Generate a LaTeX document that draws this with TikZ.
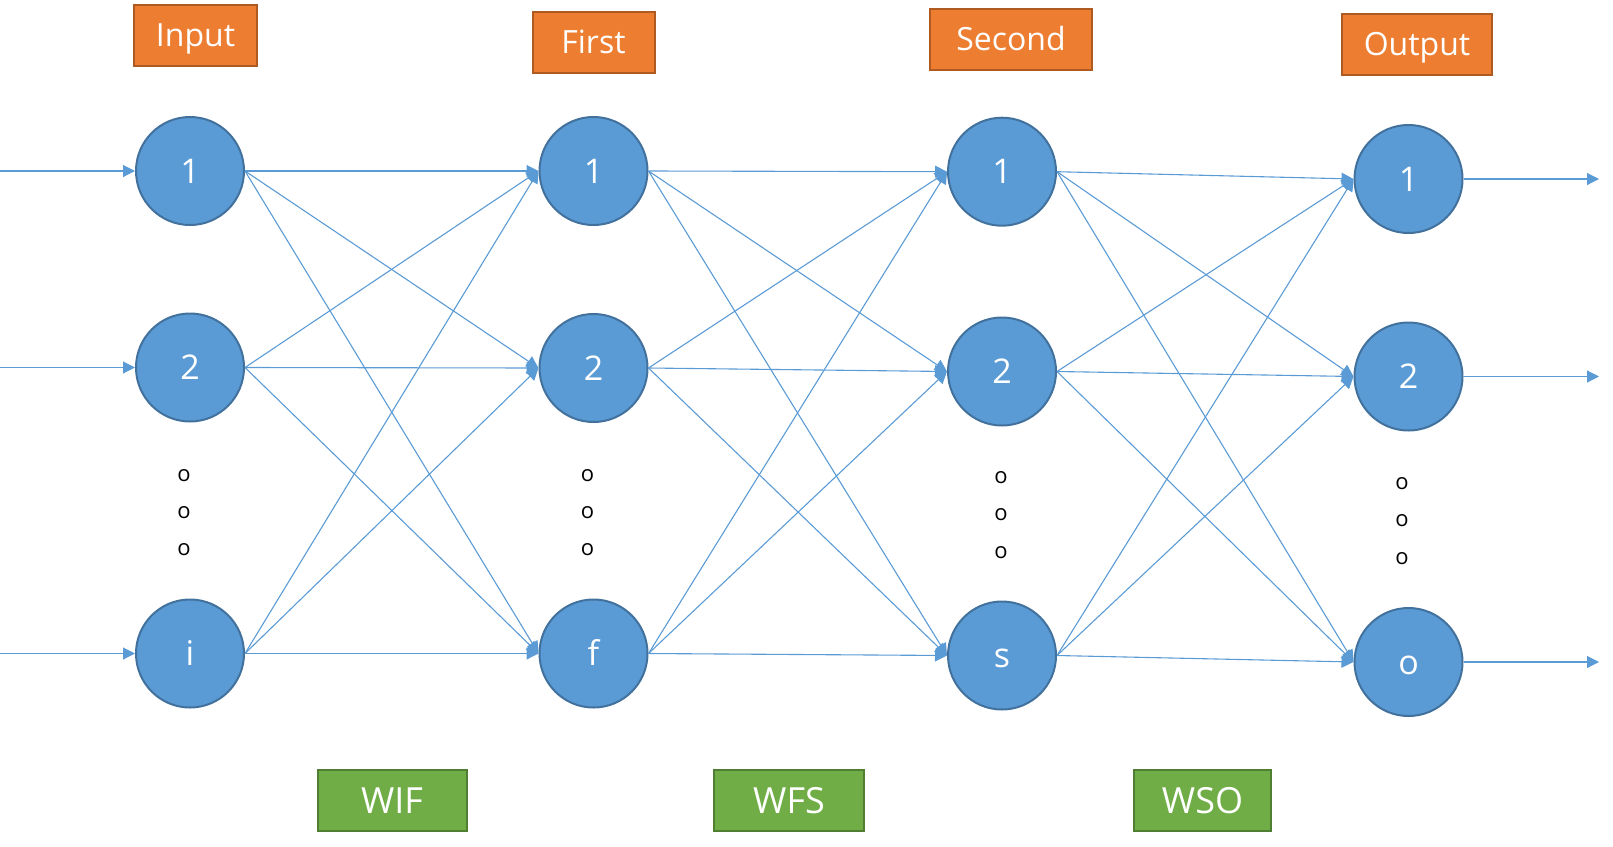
\documentclass[tikz,border=0pt]{standalone}
\usepackage{fontspec}
\setmainfont{Open Sans}
\usepackage{tikz}
\usetikzlibrary{arrows.meta,positioning}
\definecolor{nodeblue}{HTML}{5B9BD5}
\definecolor{nodeedge}{HTML}{41719C}
\definecolor{layerorange}{HTML}{ED7D31}
\definecolor{layeredge}{HTML}{AE5A21}
\definecolor{weightgreen}{HTML}{70AD47}
\definecolor{weightedge}{HTML}{507E32}

\begin{document}
\begin{tikzpicture}[x=1pt,y=1pt,
neuron/.style={circle,fill=nodeblue,draw=nodeedge,line width=2pt,minimum size=108pt,inner sep=0pt,
  text=white,font=\fontsize{34}{34}\selectfont,text height=24.3pt,text depth=0pt},
layer/.style={rectangle,fill=layerorange,draw=layeredge,line width=2pt,minimum height=61pt,inner sep=0pt,
  text=white,font=\fontsize{32}{32}\selectfont,text height=23pt,text depth=0pt},
weight/.style={rectangle,fill=weightgreen,draw=weightedge,line width=2pt,minimum height=61pt,inner sep=0pt,
  text=white,font=\fontsize{36}{36}\selectfont,text height=26pt,text depth=0pt},
dots/.style={inner sep=0pt,font=\fontsize{22}{22}\selectfont},
link/.style={color=nodeblue,line width=1.1pt,-{Triangle[length=12pt,width=12pt]}}]
\useasboundingbox (0,0) rectangle (1613,-846);
% layer titles
\node[layer,minimum width=123pt] (Tin) at (195.5,-35) {Input};
\node[layer,minimum width=122pt] (Tfirst) at (593.5,-42) {First};
\node[layer,minimum width=162pt] (Tsecond) at (1011,-39) {Second};
\node[layer,minimum width=150pt] (Tout) at (1417,-44) {Output};
% weight labels
\node[weight,minimum width=149pt] (WIF) at (392,-800) {WIF};
\node[weight,minimum width=150pt] (WFS) at (789,-800) {WFS};
\node[weight,minimum width=137pt] (WSO) at (1202.5,-800) {WSO};
% neurons
\node[neuron] (I1) at (190,-171) {1};
\node[neuron] (I2) at (190,-367.5) {2};
\node[neuron] (Ii) at (190,-653.5) {i};
\node[neuron] (F1) at (593.5,-171) {1};
\node[neuron] (F2) at (593.5,-368) {2};
\node[neuron] (Ff) at (593.5,-653.5) {f};
\node[neuron] (S1) at (1002,-171.7) {1};
\node[neuron] (S2) at (1002,-371.5) {2};
\node[neuron] (Ss) at (1002,-655.5) {s};
\node[neuron] (O1) at (1408.5,-179) {1};
\node[neuron] (O2) at (1408.5,-376.5) {2};
\node[neuron] (Oo) at (1408.5,-662) {o};
% ellipsis
\node[dots] (Id1) at (184,-476) {o};
\node[dots] (Id2) at (184,-513) {o};
\node[dots] (Id3) at (184,-550) {o};
\node[dots] (Fd1) at (587.5,-476) {o};
\node[dots] (Fd2) at (587.5,-513) {o};
\node[dots] (Fd3) at (587.5,-550) {o};
\node[dots] (Sd1) at (1001,-478) {o};
\node[dots] (Sd2) at (1001,-515) {o};
\node[dots] (Sd3) at (1001,-553) {o};
\node[dots] (Od1) at (1402,-484) {o};
\node[dots] (Od2) at (1402,-521) {o};
\node[dots] (Od3) at (1402,-559) {o};
% free ends
\coordinate (in1) at (0,-171);
\coordinate (in2) at (0,-367.5);
\coordinate (ini) at (0,-653.5);
\coordinate (out1) at (1599,-179);
\coordinate (out2) at (1599,-376.5);
\coordinate (outo) at (1599,-662);
\path[link]
(in1) edge (I1.west)
(in2) edge (I2.west)
(ini) edge (Ii.west)
(O1.east) edge (out1)
(O2.east) edge (out2)
(Oo.east) edge (outo);
\path[link]
(I1.east) edge (F1.west)
(I1.east) edge (F2.west)
(I1.east) edge (Ff.west)
(I2.east) edge (F1.west)
(I2.east) edge (F2.west)
(I2.east) edge (Ff.west)
(Ii.east) edge (F1.west)
(Ii.east) edge (F2.west)
(Ii.east) edge (Ff.west);
\path[link]
(F1.east) edge (S1.west)
(F1.east) edge (S2.west)
(F1.east) edge (Ss.west)
(F2.east) edge (S1.west)
(F2.east) edge (S2.west)
(F2.east) edge (Ss.west)
(Ff.east) edge (S1.west)
(Ff.east) edge (S2.west)
(Ff.east) edge (Ss.west);
\path[link]
(S1.east) edge (O1.west)
(S1.east) edge (O2.west)
(S1.east) edge (Oo.west)
(S2.east) edge (O1.west)
(S2.east) edge (O2.west)
(S2.east) edge (Oo.west)
(Ss.east) edge (O1.west)
(Ss.east) edge (O2.west)
(Ss.east) edge (Oo.west);
\end{tikzpicture}
\end{document}
